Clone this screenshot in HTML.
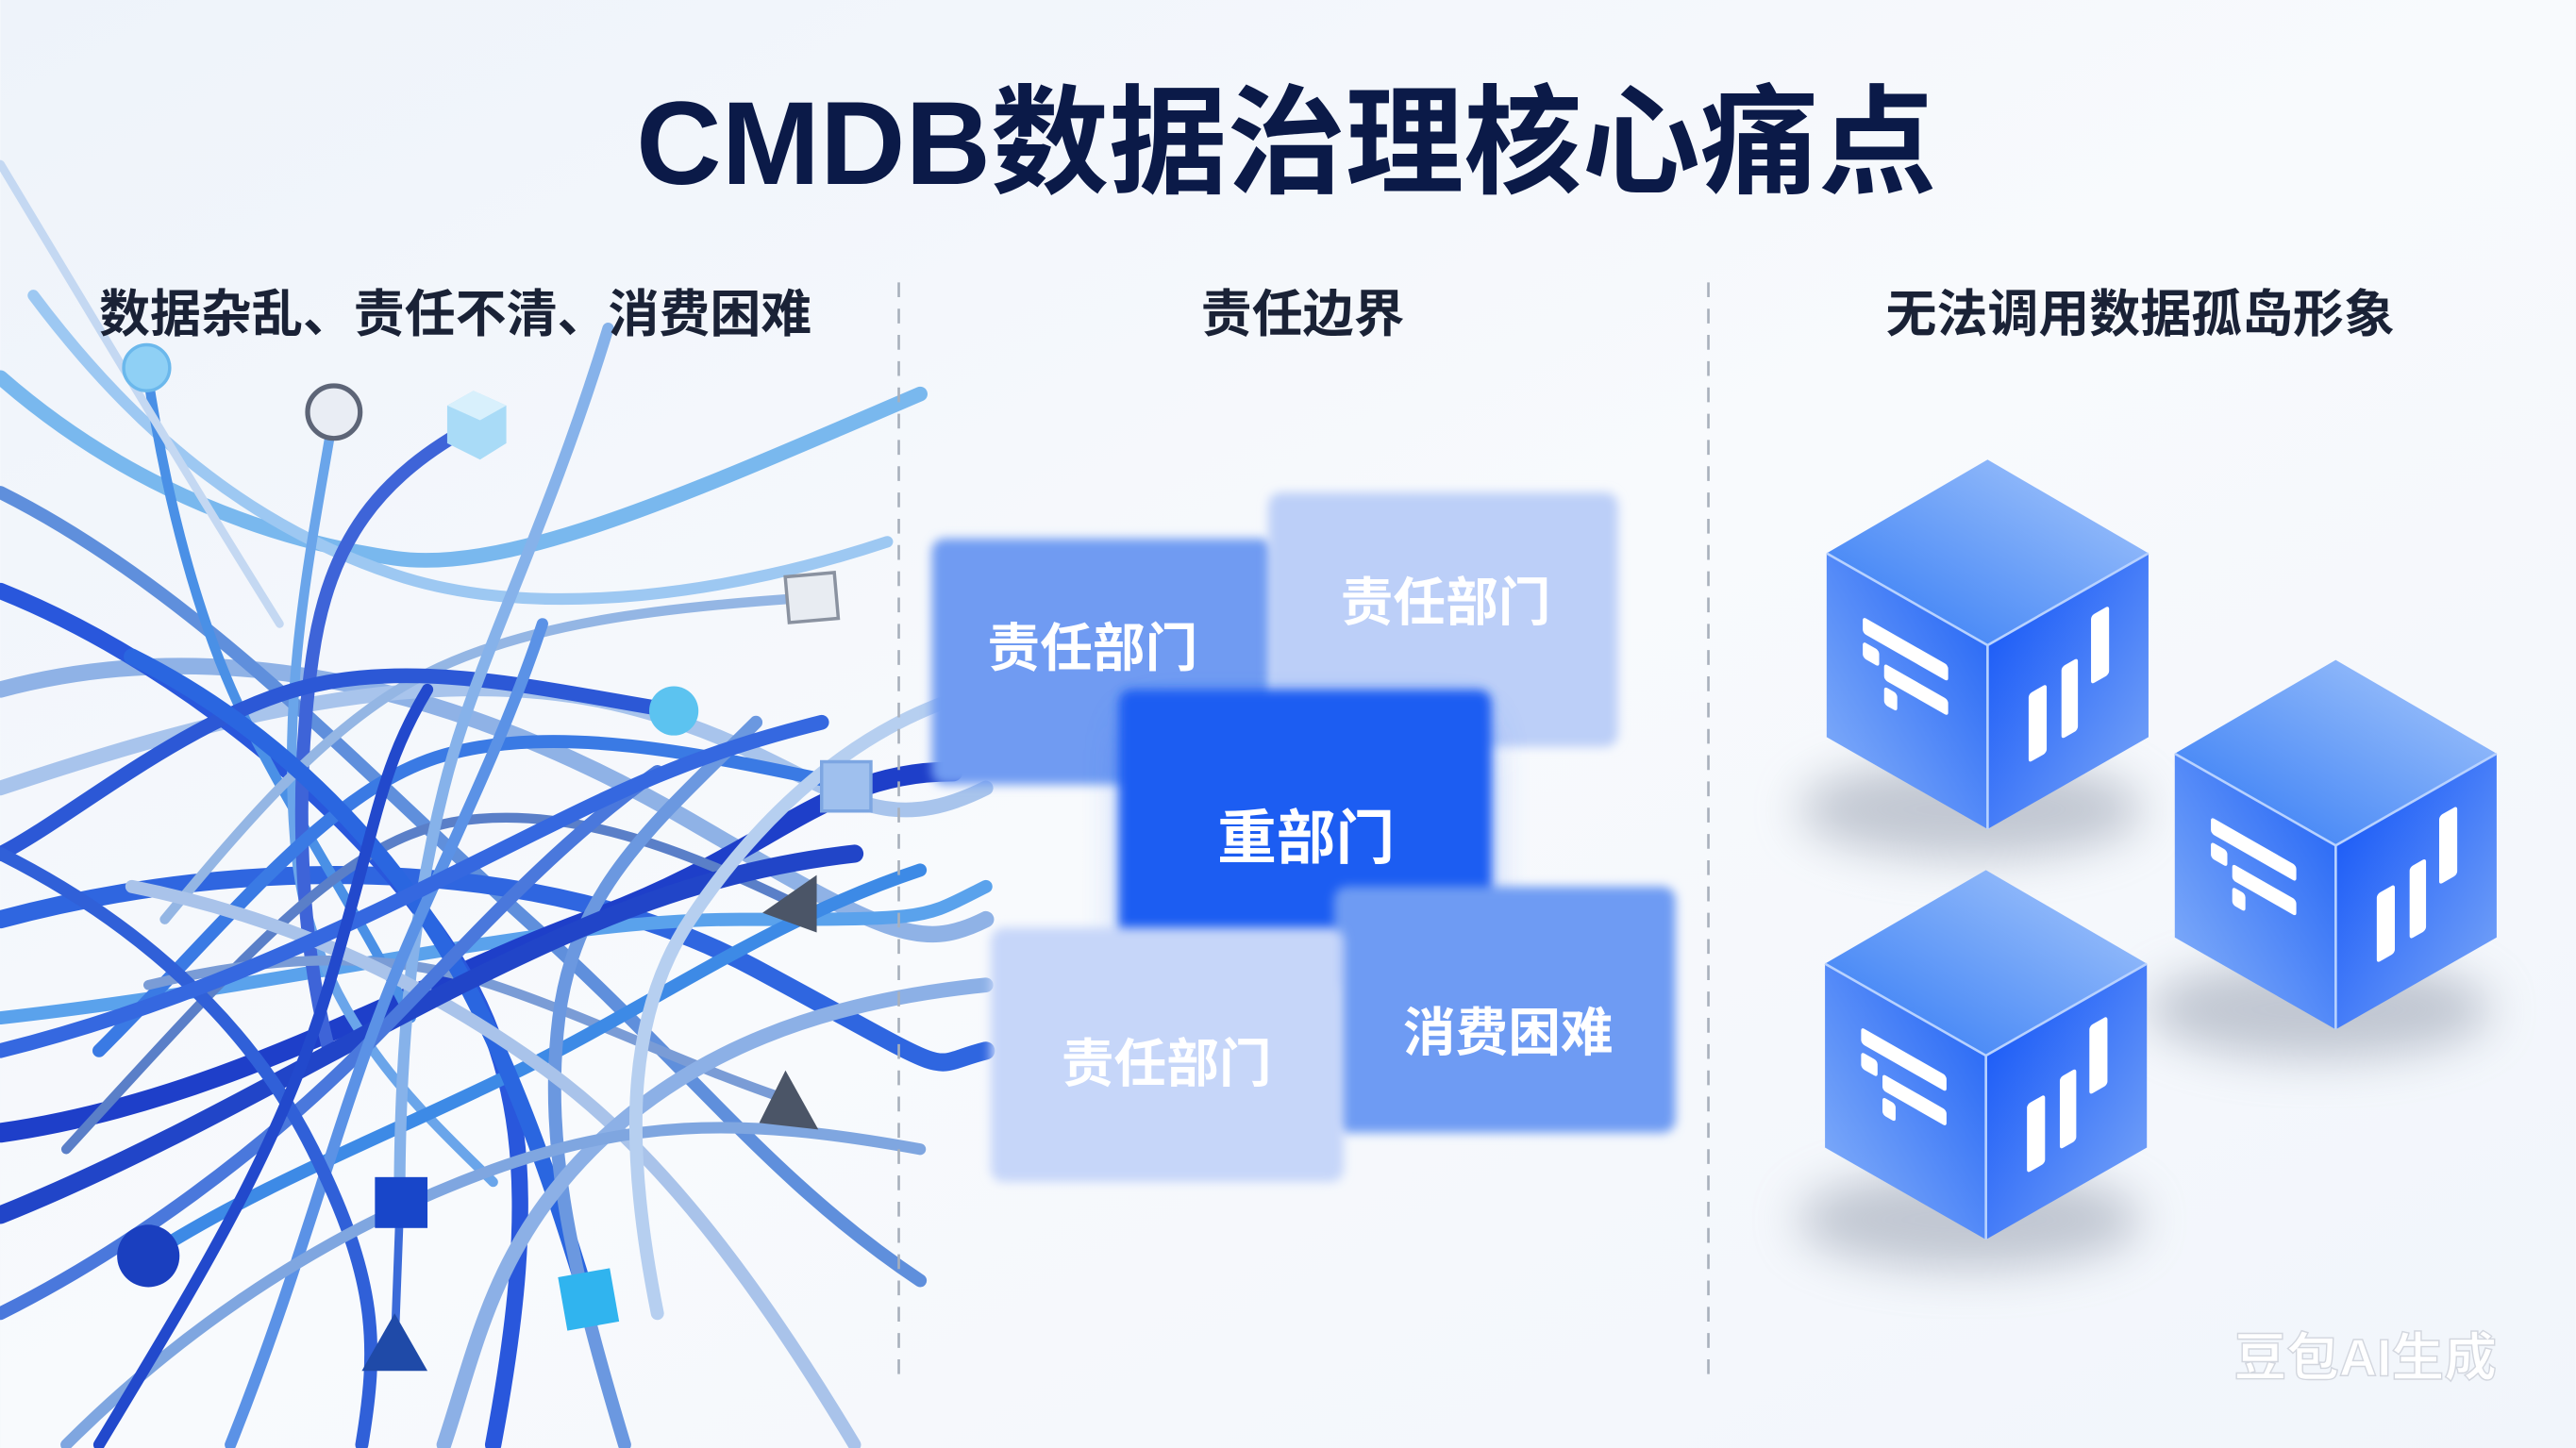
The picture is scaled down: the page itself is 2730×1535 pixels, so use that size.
<!DOCTYPE html>
<html><head><meta charset="utf-8"><style>
html,body{margin:0;padding:0;width:2730px;height:1535px;overflow:hidden;background:#f5f8fc}
svg{display:block}
text{font-family:"Liberation Sans","Noto Sans CJK SC",sans-serif}
</style></head><body>
<svg width="2730" height="1535" viewBox="0 0 1568 882" xmlns="http://www.w3.org/2000/svg">
<defs>
<linearGradient id="bg" x1="0" y1="0" x2="1" y2="1"><stop offset="0" stop-color="#eef3fa"/><stop offset="0.5" stop-color="#f8fafd"/><stop offset="1" stop-color="#f1f5fb"/></linearGradient>
<linearGradient id="top" x1="0" y1="1" x2="1" y2="0"><stop offset="0" stop-color="#2f78f5"/><stop offset="1" stop-color="#a9c9fb"/></linearGradient>
<linearGradient id="lf" x1="1" y1="0" x2="0" y2="1"><stop offset="0" stop-color="#1c5ff5"/><stop offset="1" stop-color="#8ab4fa"/></linearGradient>
<linearGradient id="rf" x1="0" y1="0" x2="1" y2="1"><stop offset="0" stop-color="#0c4ff7"/><stop offset="1" stop-color="#7eaaf8"/></linearGradient>
<filter id="blur" x="-50%" y="-50%" width="200%" height="200%"><feGaussianBlur stdDeviation="14"/></filter>
<filter id="sb" x="-20%" y="-20%" width="140%" height="140%"><feGaussianBlur stdDeviation="3"/></filter>
<g id="cube">
<ellipse cx="-10" cy="100" rx="105" ry="30" fill="#8e97a8" opacity="0.5" filter="url(#blur)"/>
<polygon points="0,-113 98,-56 0,0 -98,-56" fill="url(#top)"/>
<polygon points="-98,-56 0,0 0,112 -98,56" fill="url(#lf)"/>
<polygon points="0,0 98,-56 98,56 0,112" fill="url(#rf)"/>
<polyline points="-98,-56 0,0 98,-56" fill="none" stroke="#b8d2ff" stroke-width="1.5"/>
<line x1="0" y1="0" x2="0" y2="112" stroke="#b8d2ff" stroke-width="1.5"/>
<g transform="matrix(1,0.571,0,1,-98,-56)" fill="#fff">
<rect x="22" y="26" width="52" height="10" rx="2"/>
<rect x="22" y="41" width="10" height="10" rx="2"/>
<rect x="35" y="47" width="39" height="10" rx="2"/>
<rect x="35" y="61" width="8" height="11" rx="2"/>
</g>
<g transform="matrix(1,-0.571,0,1,0,0)" fill="#fff">
<rect x="25" y="44" width="11" height="42" rx="2"/>
<rect x="45" y="39" width="10" height="44" rx="2"/>
<rect x="63" y="18" width="11" height="42" rx="2"/>
</g>
</g>
</defs>
<rect width="1568" height="882" fill="url(#bg)"/>

<!-- wires -->
<g fill="none" stroke-linecap="round">
<path d="M0,420 C150,380 300,430 420,500 S560,580 600,560" stroke="#8fb2e6" stroke-width="10"/>
<path d="M0,480 C120,440 260,400 380,430 S520,520 600,480" stroke="#a8c4ec" stroke-width="9"/>
<path d="M0,300 C120,360 220,470 320,560 S470,720 560,780" stroke="#5f8fdc" stroke-width="8"/>
<path d="M0,560 C150,520 330,520 460,590 S560,650 600,640" stroke="#2f66e0" stroke-width="11"/>
<path d="M0,620 C180,600 330,560 450,560 S560,560 600,540" stroke="#5aa2ec" stroke-width="8"/>
<path d="M0,690 C140,670 250,600 360,560 S500,470 580,470" stroke="#1e3fc9" stroke-width="12"/>
<path d="M0,360 C100,400 200,480 260,560 S330,720 300,880" stroke="#2957dc" stroke-width="10"/>
<path d="M0,230 C80,300 170,330 240,340 S420,300 560,240" stroke="#79b8ee" stroke-width="9"/>
<path d="M20,180 C80,260 150,320 240,350 S450,360 540,330" stroke="#9dc8f2" stroke-width="7"/>
<path d="M89,224 C100,300 120,380 150,440 S220,560 250,620" stroke="#4a90e6" stroke-width="6"/>
<path d="M203,251 C190,330 170,420 180,520 S260,680 300,720" stroke="#6aa5ea" stroke-width="6"/>
<path d="M290,258 C230,290 200,330 190,400 S180,560 200,640" stroke="#3e64d8" stroke-width="8"/>
<path d="M493,364 C400,370 320,380 260,410 S150,500 100,560" stroke="#94b6e4" stroke-width="6"/>
<path d="M410,433 C330,420 250,400 180,420 S40,500 0,520" stroke="#2c58d6" stroke-width="9"/>
<path d="M515,478 C430,460 340,440 270,460 S140,560 60,640" stroke="#3a7ae4" stroke-width="8"/>
<path d="M483,550 C420,520 350,490 280,500 S150,580 40,700" stroke="#5a7fc8" stroke-width="6"/>
<path d="M480,670 C420,650 360,620 300,600 S170,580 90,600" stroke="#7a9cd6" stroke-width="6"/>
<path d="M90,765 C160,720 240,690 320,650 S470,560 560,530" stroke="#3d8ae6" stroke-width="8"/>
<path d="M243,732 C243,640 250,560 270,480 S330,330 370,200" stroke="#86b2ea" stroke-width="7"/>
<path d="M240,820 L243,740" stroke="#3b6ad8" stroke-width="5"/>
<path d="M357,790 C330,700 300,620 260,560 S160,440 80,400" stroke="#2a66e0" stroke-width="10"/>
<path d="M380,880 C350,780 330,700 340,620 S400,500 460,440" stroke="#6b98e0" stroke-width="8"/>
<path d="M520,880 C460,780 400,700 330,650 S180,560 80,540" stroke="#a9c3ea" stroke-width="8"/>
<path d="M0,740 C100,700 200,640 280,600 S430,530 520,520" stroke="#2145c8" stroke-width="11"/>
<path d="M0,800 C80,760 160,700 220,640 S330,520 400,470" stroke="#4a78dc" stroke-width="8"/>
<path d="M140,880 C180,780 200,700 230,620 S300,470 330,380" stroke="#5b92e6" stroke-width="7"/>
<path d="M600,600 C500,610 420,640 360,700 S290,820 270,880" stroke="#8cb0e6" stroke-width="9"/>
<path d="M0,520 C80,560 150,620 190,700 S230,820 220,880" stroke="#3060d8" stroke-width="8"/>
<path d="M40,880 C100,820 180,760 280,720 S450,680 560,700" stroke="#7fa6e0" stroke-width="7"/>
<path d="M600,420 C520,440 460,500 420,560 S380,700 400,800" stroke="#b6cff0" stroke-width="8"/>
<path d="M0,100 C60,200 120,300 170,380" stroke="#c4d8f2" stroke-width="5"/>
<path d="M0,640 C120,610 220,560 300,520 S420,460 500,440" stroke="#3568e0" stroke-width="9"/>
<path d="M60,880 C120,780 170,700 200,600 S230,470 260,420" stroke="#2249cc" stroke-width="7"/>
</g>
<!-- markers -->
<circle cx="89" cy="224" r="14" fill="#8fd0f5" stroke="#6bb8ec" stroke-width="2"/>
<circle cx="203" cy="251" r="16" fill="#e9edf4" stroke="#5d6577" stroke-width="3"/>
<polygon points="272,247 288,238 308,247 308,270 292,280 272,270" fill="#a9dbf7"/>
<polygon points="272,247 292,256 308,247 288,238" fill="#d8f0fc"/>
<rect x="479" y="350" width="30" height="28" fill="#e8ecf2" stroke="#8a92a0" stroke-width="2" transform="rotate(-5 494 364)"/>
<circle cx="410" cy="433" r="15" fill="#5cc3f0"/>
<rect x="500" y="464" width="30" height="30" fill="#9fc0ee" stroke="#7da6e2" stroke-width="2"/>
<polygon points="464,556 497,533 497,568" fill="#4b5567"/>
<polygon points="462,684 478,652 498,688" fill="#4b5567"/>
<rect x="228" y="717" width="32" height="31" fill="#1846c9"/>
<circle cx="90" cy="765" r="19" fill="#1a3fbf"/>
<polygon points="220,835 240,800 260,835" fill="#1f4aa8"/>
<rect x="342" y="775" width="32" height="33" fill="#30b4ef" transform="rotate(-10 358 791)"/>

<!-- title -->
<text x="783" y="112" text-anchor="middle" font-size="72" font-weight="bold" fill="#0b1a48">CMDB数据治理核心痛点</text>
<text x="277" y="202" text-anchor="middle" font-size="31" font-weight="bold" fill="#1a2236">数据杂乱、责任不清、消费困难</text>
<text x="793" y="202" text-anchor="middle" font-size="31" font-weight="bold" fill="#1a2236">责任边界</text>
<text x="1303" y="202" text-anchor="middle" font-size="31" font-weight="bold" fill="#1a2236">无法调用数据孤岛形象</text>

<line x1="547" y1="172" x2="547" y2="842" stroke="#a8b0bc" stroke-width="1.5" stroke-dasharray="9 7"/>
<line x1="1040" y1="172" x2="1040" y2="842" stroke="#a8b0bc" stroke-width="1.5" stroke-dasharray="9 7"/>

<!-- cards -->
<rect x="567" y="328" width="208" height="150" rx="8" fill="#6f9bf2" filter="url(#sb)"/>
<rect x="772" y="300" width="213" height="155" rx="8" fill="#bccff8" filter="url(#sb)"/>
<rect x="690" y="440" width="210" height="150" rx="14" fill="#3c78f2" filter="url(#blur)" opacity="0.7"/>
<rect x="681" y="420" width="227" height="180" rx="8" fill="#1c5df2" filter="url(#sb)"/>
<rect x="812" y="540" width="208" height="150" rx="8" fill="#6e9bf3" filter="url(#sb)"/>
<rect x="603" y="565" width="215" height="155" rx="8" fill="#c6d6f9" filter="url(#sb)"/>
<text x="665" y="406" text-anchor="middle" font-size="32" font-weight="bold" fill="#fff">责任部门</text>
<text x="880" y="378" text-anchor="middle" font-size="32" font-weight="bold" fill="#fff">责任部门</text>
<text x="795" y="523" text-anchor="middle" font-size="36" font-weight="bold" fill="#fff">重部门</text>
<text x="918" y="640" text-anchor="middle" font-size="32" font-weight="bold" fill="#fff">消费困难</text>
<text x="710" y="659" text-anchor="middle" font-size="32" font-weight="bold" fill="#fff">责任部门</text>

<!-- cubes -->
<use href="#cube" x="1210" y="393"/>
<use href="#cube" x="1422" y="515"/>
<use href="#cube" x="1209" y="643"/>

<text x="1440" y="838" text-anchor="middle" font-size="32" font-weight="bold" fill="#ffffff" stroke="#d2d6de" stroke-width="0.8">豆包AI生成</text>
</svg>
</body></html>
